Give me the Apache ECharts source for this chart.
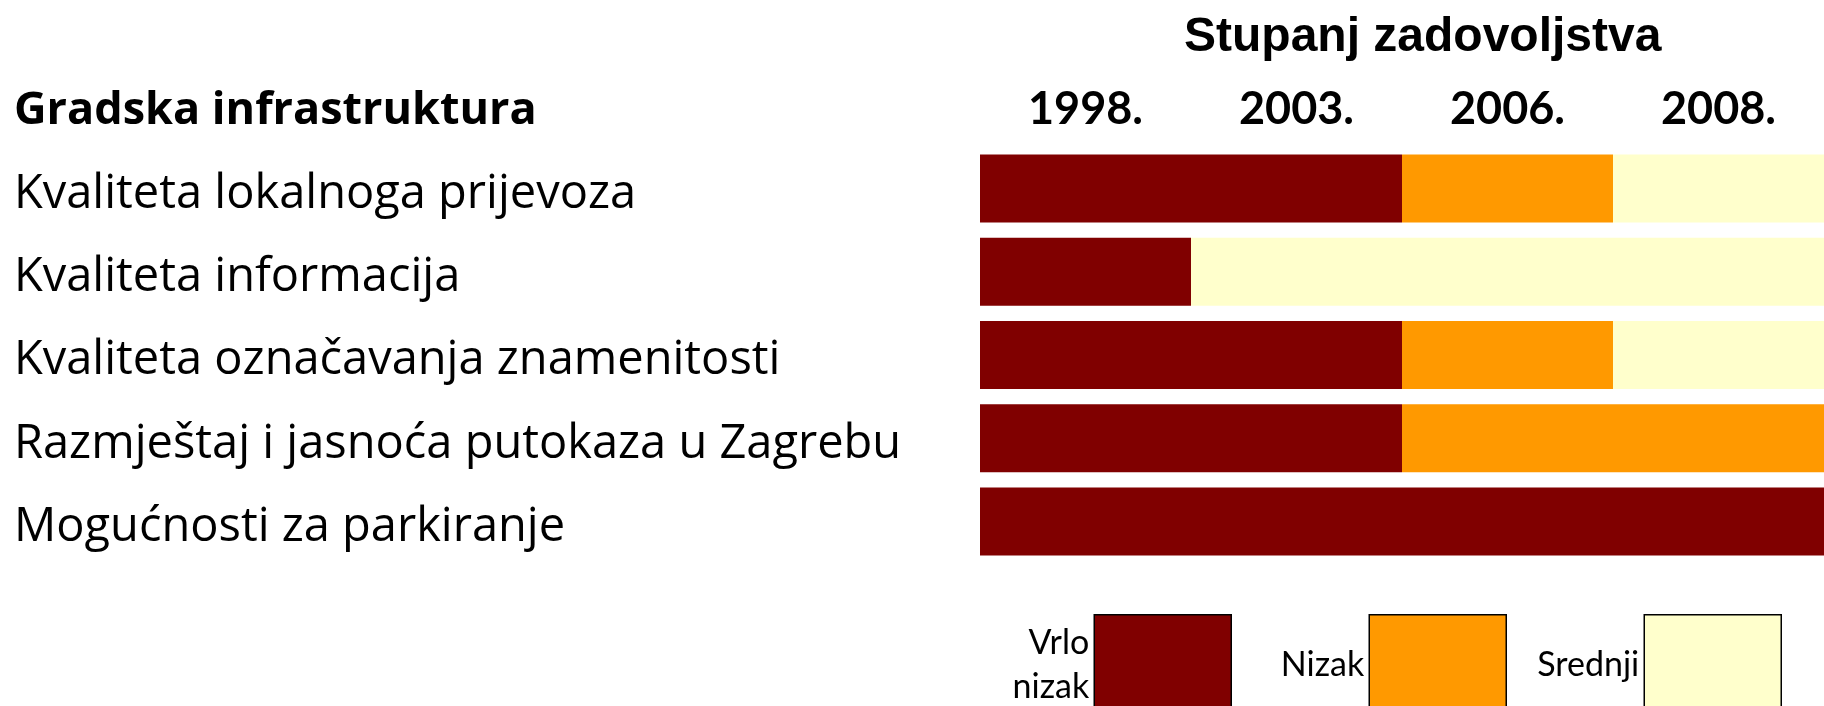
<!DOCTYPE html>
<html>
<head>
<meta charset="utf-8">
<script src="https://cdn.jsdelivr.net/npm/echarts@6/dist/echarts.min.js"></script>
<style>
  html, body { margin: 0; padding: 0; background: #fff; }
  #main { width: 1824px; height: 706px; }
</style>
</head>
<body>
<div id="main"></div>
<script>
// kategorije (redovi)
const categories = [
  'Kvaliteta lokalnoga prijevoza',
  'Kvaliteta informacija',
  'Kvaliteta označavanja znamenitosti',
  'Razmještaj i jasnoća putokaza u Zagrebu',
  'Mogućnosti za parkiranje'
];
const years = ['1998.', '2003.', '2006.', '2008.'];
const levels = ['Vrlo nizak', 'Nizak', 'Srednji'];
const levelColors = ['#800000', '#FF9900', '#FFFFCC'];

// stupanj zadovoljstva po godini (0 = vrlo nizak, 1 = nizak, 2 = srednji)
const level1998 = [0, 0, 0, 0, 0];
const level2003 = [0, 2, 0, 0, 0];
const level2006 = [1, 2, 1, 1, 0];
const level2008 = [2, 2, 2, 1, 0];
const yearLevels = [level1998, level2003, level2006, level2008];

const chart = echarts.init(document.getElementById('main'), null, { renderer: 'canvas' });

const labelFont = 'Open Sans';
const boldFont = 'Lato';

// svaka godina je jedan dio složenog stupca
const yearSeries = years.map((y, i) => ({
  name: y,
  type: 'bar',
  stack: 'a',
  barWidth: 68,
  silent: true,
  data: yearLevels[i].map(l => ({ value: 1, itemStyle: { color: levelColors[l] } }))
}));

// prazne serije samo za legendu
const legendSeries = levels.map((name, i) => ({
  name: name,
  type: 'bar',
  stack: 'a',
  itemStyle: { color: levelColors[i] },
  data: []
}));

function legendFor(name, right) {
  return {
    data: [name],
    right: right,
    top: 614,
    padding: 0,
    align: 'right',
    icon: 'rect',
    itemWidth: 137,
    itemHeight: 100,
    selectedMode: false,
    itemStyle: { borderColor: '#000', borderWidth: 1.5 },
    formatter: n => n === 'Vrlo nizak' ? 'Vrlo\nnizak' : n,
    textStyle: { fontFamily: boldFont, fontSize: 34, color: '#000', lineHeight: 44 }
  };
}

const option = {
  backgroundColor: '#fff',
  animation: false,
  title: [
    {
      text: 'Stupanj zadovoljstva',
      left: 1184,
      top: 14,
      padding: 0,
      textStyle: { fontFamily: 'Liberation Sans', fontWeight: 'bold', fontSize: 48, color: '#000' }
    },
    {
      text: 'Gradska infrastruktura',
      left: 14,
      top: 89,
      padding: 0,
      textStyle: { fontFamily: labelFont, fontWeight: 'bold', fontSize: 45, color: '#000' }
    }
  ],
  legend: [
    legendFor('Vrlo nizak', 592),
    legendFor('Nizak', 317),
    legendFor('Srednji', 42)
  ],
  // sirina 844 -> stupci od tocno 211 px
  grid: { left: 980, right: 0, top: 147, height: 416 },
  xAxis: [
    {
      type: 'value',
      min: 0,
      max: 4,
      show: false
    },
    {
      type: 'category',
      position: 'top',
      data: years,
      axisLine: { show: false },
      axisTick: { show: false },
      splitLine: { show: false },
      axisLabel: {
        margin: 15,
        fontFamily: boldFont,
        fontWeight: 'bold',
        fontSize: 45,
        color: '#000'
      }
    }
  ],
  yAxis: {
    type: 'category',
    inverse: true,
    data: categories,
    axisLine: { show: false },
    axisTick: { show: false },
    axisLabel: {
      align: 'left',
      margin: 966,
      // malo niže od sredine reda, kao u originalu
      verticalAlign: 'top',
      lineHeight: 12,
      fontFamily: labelFont,
      fontSize: 47,
      color: '#000'
    }
  },
  series: yearSeries.concat(legendSeries)
};

chart.setOption(option);
</script>
</body>
</html>
